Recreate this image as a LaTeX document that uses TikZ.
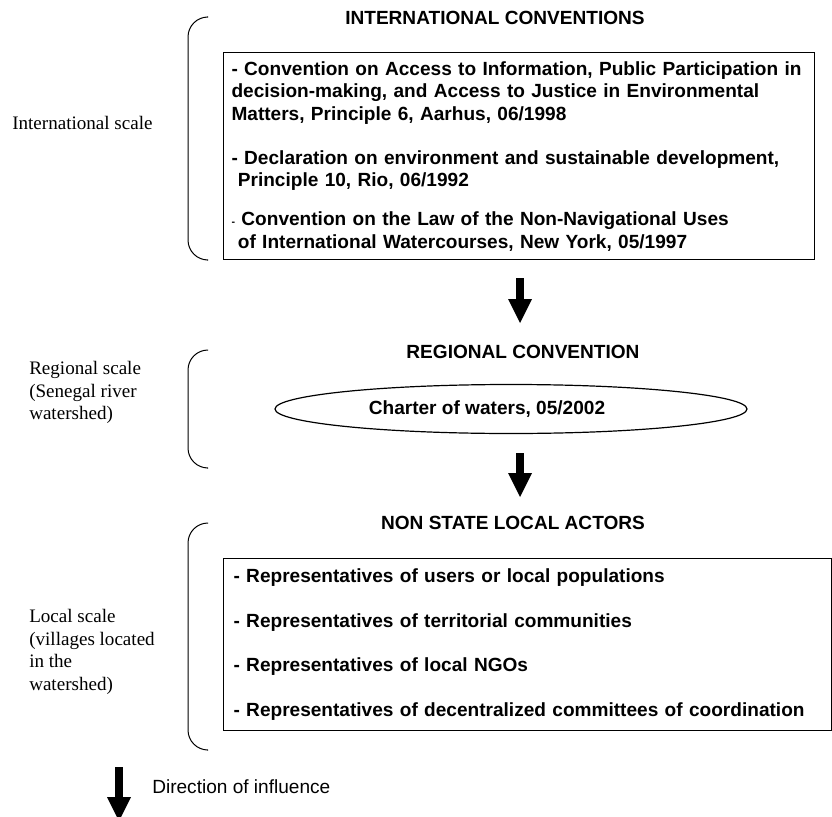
\documentclass[tikz,border=0pt]{standalone}
\usepackage{fontspec}
\setmainfont{Liberation Serif}
\setsansfont{Liberation Sans}
\usepackage{tikz}
\usetikzlibrary{arrows.meta,shapes.geometric}
\tikzset{
>=Stealth,
title node/.style={font=\sffamily\bfseries\fontsize{14.3}{16.9}\selectfont,inner sep=0pt},
box node/.style={draw,line width=0.8pt,align=left,anchor=north west,inner ysep=6.5pt,font=\sffamily\bfseries\fontsize{14.3}{16.9}\selectfont},
scale node/.style={align=left,anchor=north west,inner sep=0pt,font=\rmfamily\fontsize{14.3}{16.9}\selectfont},
influence/.style={line width=6.4pt,-{Triangle[length=18pt,width=18pt,line width=0pt]}},
bracket/.style={line width=0.75pt,rounded corners=15pt}}

\begin{document}
\begin{tikzpicture}[x=0.75pt,y=-0.75pt]
\useasboundingbox (0,0) rectangle (832,817);

% international scale
\node[scale node,anchor=west] (intscale) at (12,123) {International scale};
\node[title node] (inttitle) at (495,18) {INTERNATIONAL CONVENTIONS};
\node[box node,text width=431.25pt,inner xsep=6pt] (intl) at (223,52) {%
- Convention on Access to Information, Public Participation in\\
decision-making, and Access to Justice in Environmental\\
Matters, Principle 6, Aarhus, 06/1998\\[16.1pt]
- Declaration on environment and sustainable development,\\
\ Principle 10, Rio, 06/1992\\[12.4pt]
{\footnotesize -} Convention on the Law of the Non-Navigational Uses\\
\ of International Watercourses, New York, 05/1997};
\draw[bracket] (207,17) -- (188,17) -- (188,260) -- (207,260);

% regional scale
\node[scale node] (regscale) at (29,361) {Regional scale\\(Senegal river\\watershed)};
\node[title node] (regtitle) at (523,352) {REGIONAL CONVENTION};
\node[draw,ellipse,line width=0.9pt,minimum width=354pt,minimum height=36.75pt,inner sep=0pt,font=\sffamily\bfseries\fontsize{14.3}{16.9}\selectfont] (charter) at (511,409) {Charter of waters, 05/2002\hspace*{36pt}};
\draw[bracket] (207,350) -- (188,350) -- (188,468) -- (207,468);

% local scale
\node[scale node] (locscale) at (29,609) {Local scale\\(villages located\\in the\\watershed)};
\node[title node] (loctitle) at (513,523) {NON STATE LOCAL ACTORS};
\node[box node,text width=441pt,inner xsep=7.5pt,inner ysep=7.5pt] (actors) at (223,558) {%
- Representatives of users or local populations\\[16.6pt]
- Representatives of territorial communities\\[16.6pt]
- Representatives of local NGOs\\[16.6pt]
- Representatives of decentralized committees of coordination};
\draw[bracket] (207,523) -- (188,523) -- (188,750) -- (207,750);

% influence arrows
\coordinate (a1) at (520,278);
\coordinate (b1) at (520,323);
\coordinate (a2) at (520,453);
\coordinate (b2) at (520,497);
\draw[influence] (a1) -- (b1);
\draw[influence] (a2) -- (b2);

% legend
\coordinate (leg1) at (119,767);
\coordinate (leg2) at (119,821);
\draw[influence] (leg1) -- (leg2);
\node[anchor=west,inner sep=0pt,font=\sffamily\fontsize{14.3}{16.9}\selectfont] (legtext) at (152,787) {Direction of influence};

\end{tikzpicture}
\end{document}
